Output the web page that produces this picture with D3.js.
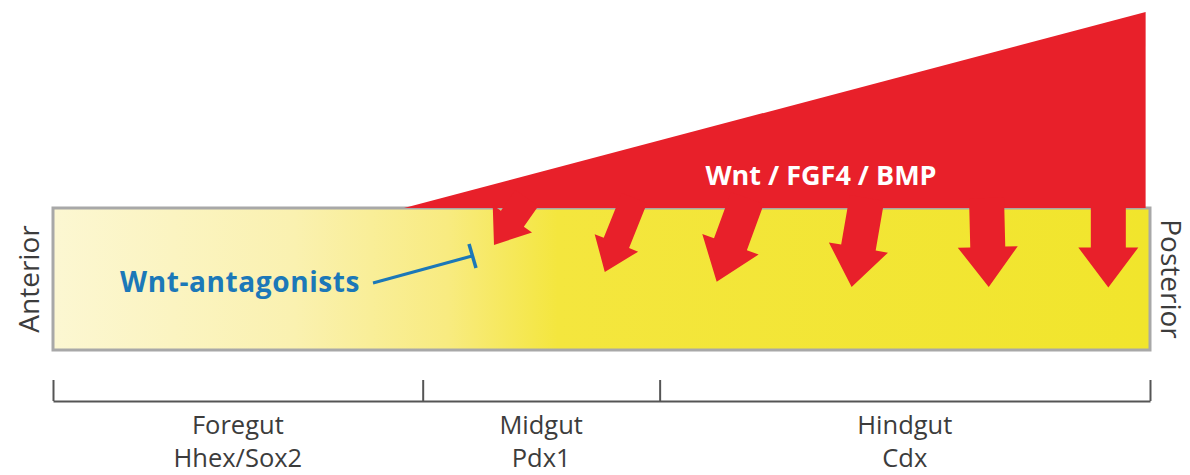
<!DOCTYPE html>
<html>
<head>
<meta charset="utf-8">
<script src="https://cdn.jsdelivr.net/npm/d3@7"></script>
<style>
  body { margin: 0; background: #fff; }
  svg { display: block; font-family: "Open Sans", "Liberation Sans", sans-serif; }
</style>
</head>
<body>
<svg id="chart" width="1190" height="475"></svg>
<script>
// gut regions along the anterior -> posterior axis (0..1)
const regions = ["Foregut", "Midgut", "Hindgut"];
const markers = ["Hhex/Sox2", "Pdx1", "Cdx"];
const boundaries = [0, 0.337, 0.553, 1];

// Wnt / FGF4 / BMP signal: starts at 0.32, peaks at the posterior end
const signalPos = [0.32, 0.996, 0.996];
const signalLevel = [0, 1, 0];

// arrows coming down from the signal into the endoderm
const arrowFrom = [0.432, 0.530, 0.633, 0.742, 0.851, 0.962];
const arrowTo = [0.402, 0.503, 0.605, 0.728, 0.853, 0.962];
const arrowDepth = [0.26, 0.45, 0.52, 0.556, 0.556, 0.56];
const arrowWeight = [0.8, 0.78, 1, 1, 1, 1];

const svg = d3.select("#chart");

const x = d3.scaleLinear().domain([0, 1]).range([53, 1150]);
const ySignal = d3.scaleLinear().domain([0, 1]).range([208, 12]);
const yTube = d3.scaleLinear().domain([0, 1]).range([208, 350]);

// gradient for the tube
const defs = svg.append("defs");
const grad = defs.append("linearGradient").attr("id", "tubeGrad");
grad.append("stop").attr("offset", "0%").attr("stop-color", "#fcf7d2");
grad.append("stop").attr("offset", "22%").attr("stop-color", "#faf1b0");
grad.append("stop").attr("offset", "36%").attr("stop-color", "#f8eb80");
grad.append("stop").attr("offset", "46%").attr("stop-color", "#f4e63e");
grad.append("stop").attr("offset", "100%").attr("stop-color", "#f1e52c");

svg.append("rect")
  .attr("x", x(0))
  .attr("y", yTube(0))
  .attr("width", x(1) - x(0))
  .attr("height", yTube(1) - yTube(0))
  .attr("fill", "url(#tubeGrad)")
  .attr("stroke", "#a8a8a8")
  .attr("stroke-width", 3);

// signal triangle
const red = "#e8202a";
svg.append("path")
  .datum(d3.zip(signalPos, signalLevel))
  .attr("d", d3.line().x((d) => x(d[0])).y((d) => ySignal(d[1])).curve(d3.curveLinearClosed))
  .attr("fill", red);

// arrows
const arrowPath = (i) => {
  const x0 = x(arrowFrom[i]), y0 = yTube(0) - 10;
  const x1 = x(arrowTo[i]), y1 = yTube(arrowDepth[i]);
  const dx = x1 - x0, dy = y1 - y0;
  const len = Math.hypot(dx, dy);
  const ux = dx / len, uy = dy / len;
  const px = -uy, py = ux;
  const w = arrowWeight[i];
  const shaft = 35 * w / 2, head = 60 * w / 2, headLen = 40 * w;
  const bx = x1 - ux * headLen, by = y1 - uy * headLen;
  const pts = [
    [x0 + px * shaft, y0 + py * shaft],
    [bx + px * shaft, by + py * shaft],
    [bx + px * head, by + py * head],
    [x1, y1],
    [bx - px * head, by - py * head],
    [bx - px * shaft, by - py * shaft],
    [x0 - px * shaft, y0 - py * shaft]
  ];
  return "M" + pts.map((p) => p.join(",")).join("L") + "Z";
};

svg.append("g")
  .selectAll("path")
  .data(arrowFrom)
  .join("path")
  .attr("d", (d, i) => arrowPath(i))
  .attr("fill", red);

// signal label
svg.append("text")
  .attr("x", 821)
  .attr("y", 185)
  .attr("text-anchor", "middle")
  .attr("fill", "#fff")
  .attr("font-weight", "bold")
  .attr("font-size", 27)
  .text("Wnt / FGF4 / BMP");

// antagonists
const blue = "#1b78b8";
svg.append("text")
  .attr("x", 120)
  .attr("y", 292)
  .attr("fill", blue)
  .attr("font-weight", "bold")
  .attr("font-size", 28)
  .attr("letter-spacing", 0.6)
  .text("Wnt-antagonists");

svg.append("line")
  .attr("x1", 373).attr("y1", 283)
  .attr("x2", 472).attr("y2", 256)
  .attr("stroke", blue)
  .attr("stroke-width", 3);
svg.append("line")
  .attr("x1", 469).attr("y1", 244)
  .attr("x2", 476).attr("y2", 268)
  .attr("stroke", blue)
  .attr("stroke-width", 3.5);

// axis ends
svg.append("text")
  .attr("transform", `translate(39,${yTube(0.5)}) rotate(-90)`)
  .attr("text-anchor", "middle")
  .attr("fill", "#3c3c3c")
  .attr("font-size", 28)
  .text("Anterior");

svg.append("text")
  .attr("transform", `translate(1161,${yTube(0.5)}) rotate(90)`)
  .attr("text-anchor", "middle")
  .attr("fill", "#3c3c3c")
  .attr("font-size", 28)
  .text("Posterior");

// region bracket
const axisY = 401;
const bracket = svg.append("g").attr("transform", `translate(0,${axisY})`);
bracket.call(
  d3.axisTop(x)
    .tickValues(boundaries)
    .tickSize(21)
    .tickSizeOuter(0)
    .tickFormat("")
);
bracket.select(".domain").attr("stroke", "#555").attr("stroke-width", 2);
bracket.selectAll(".tick line").attr("stroke", "#555").attr("stroke-width", 2);

const mids = regions.map((r, i) => (boundaries[i] + boundaries[i + 1]) / 2);

svg.append("g")
  .selectAll("text")
  .data(regions)
  .join("text")
  .attr("x", (d, i) => x(mids[i]))
  .attr("y", 434)
  .attr("text-anchor", "middle")
  .attr("fill", "#3c3c3c")
  .attr("font-size", 25.5)
  .text((d) => d);

svg.append("g")
  .selectAll("text")
  .data(markers)
  .join("text")
  .attr("x", (d, i) => x(mids[i]))
  .attr("y", 467)
  .attr("text-anchor", "middle")
  .attr("fill", "#3c3c3c")
  .attr("font-size", 25.5)
  .text((d) => d);
</script>
</body>
</html>
